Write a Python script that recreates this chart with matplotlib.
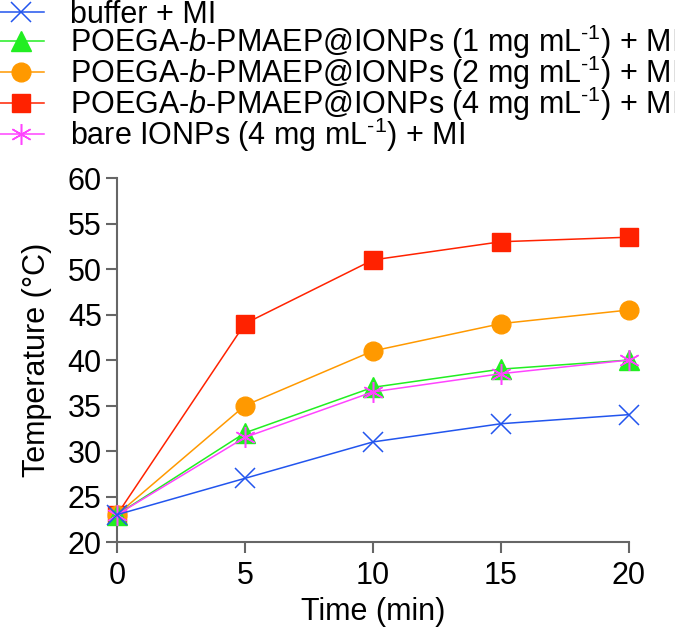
import matplotlib
matplotlib.use("Agg")
from matplotlib import pyplot as plt

plt.rcParams['font.family'] = ['Liberation Sans', 'DejaVu Sans']
plt.rcParams['mathtext.fontset'] = 'custom'
plt.rcParams['mathtext.rm'] = 'Liberation Sans'
plt.rcParams['mathtext.it'] = 'Liberation Sans:italic'

time = [0, 5, 10, 15, 20]
buffer_mi = [23, 27, 31, 33, 34]
np1 = [23, 32, 37, 39, 40]
np2 = [23, 35, 41, 44, 45.5]
np4 = [23, 44, 51, 53, 53.5]
bare4 = [23, 31.5, 36.5, 38.5, 40]

labels = [
    "buffer + MI",
    r"POEGA-$\it{b}$-PMAEP@IONPs (1 mg mL$^{\text{-1}}$) + MI",
    r"POEGA-$\it{b}$-PMAEP@IONPs (2 mg mL$^{\text{-1}}$) + MI",
    r"POEGA-$\it{b}$-PMAEP@IONPs (4 mg mL$^{\text{-1}}$) + MI",
    r"bare IONPs (4 mg mL$^{\text{-1}}$) + MI",
]

fig = plt.figure(figsize=(6.75, 6.28), dpi=100)
ax = fig.add_axes([0.1733, 0.1369, 0.7585, 0.5796])

# draw order: red at bottom, blue on top
h_red, = ax.plot(time, np4, color='#ff2200', marker='s', ms=13, lw=1.1, zorder=3)
h_or, = ax.plot(time, np2, color='#ff9900', marker='o', ms=13.5, lw=1.1, zorder=4)
h_gr, = ax.plot(time, np1, color='#22ee22', marker='^', ms=14, lw=1.1, zorder=5)
h_pk, = ax.plot(time, bare4, color='#ff44ff', marker=(6, 2, 0), ms=15, mew=1.1, lw=1.1, zorder=6)
h_bl, = ax.plot(time, buffer_mi, color='#2255ee', marker='x', ms=15, mew=1.1, lw=1.1, zorder=7)

fig.legend([h_bl, h_gr, h_or, h_red, h_pk], labels,
           loc='upper left', bbox_to_anchor=(-0.003, 1.0), frameon=False,
           fontsize=22, handlelength=1.5, handletextpad=0.85, labelspacing=-0.24,
           borderaxespad=0, borderpad=0)

ax.set_xlim(0, 20)
ax.set_ylim(20, 60)
ax.set_xticks([0, 5, 10, 15, 20])
ax.set_yticks(range(20, 61, 5))
ax.spines['top'].set_visible(False)
ax.spines['right'].set_visible(False)
for s in ['left', 'bottom']:
    ax.spines[s].set_color('#666666')
    ax.spines[s].set_linewidth(1.5)
ax.tick_params(direction='out', length=8, width=1.5, color='#666666', labelsize=22, pad=3)
ax.tick_params(axis='x', pad=6)
ax.set_xlabel("Time (min)", fontsize=22, labelpad=4)
ax.set_ylabel("Temperature (°C)", fontsize=22, labelpad=11)
for line in ax.lines:
    line.set_clip_on(False)

fig.savefig("out.png", dpi=100)
